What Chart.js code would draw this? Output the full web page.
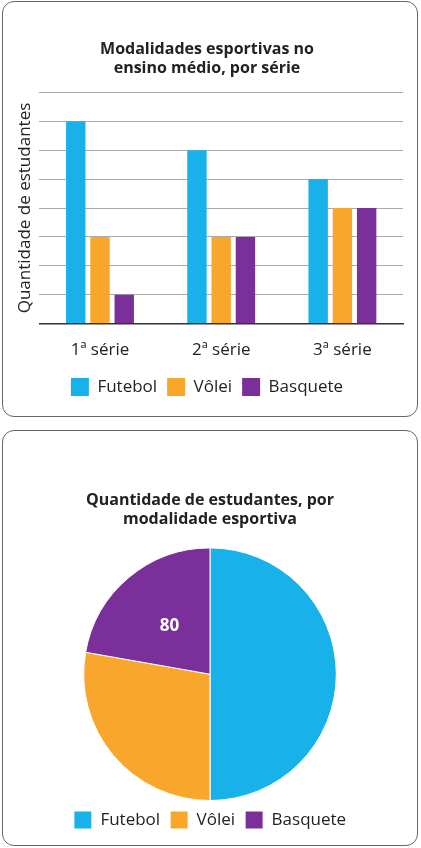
<!DOCTYPE html>
<html>
<head>
<meta charset="utf-8">
<script src="https://cdn.jsdelivr.net/npm/chart.js@4"></script>
<style>
  body { margin: 0; background: #fff; font-family: "Open Sans", sans-serif; }
  .box { position: absolute; left: 2px; width: 414px; border: 1.5px solid #666; border-radius: 12px; background: #fff; }
  #b1 { top: 1px; height: 414px; }
  #b2 { top: 430px; height: 414px; }
  canvas { display: block; }
</style>
</head>
<body>
<div class="box" id="b1"><canvas id="bar" width="414" height="414"></canvas></div>
<div class="box" id="b2"><canvas id="pie" width="414" height="414"></canvas></div>
<script>
// dados
const series = ['1ª série', '2ª série', '3ª série'];
const futebol = [7, 6, 5];
const volei = [3, 3, 4];
const basquete = [1, 3, 4];

const modalidades = ['Futebol', 'Vôlei', 'Basquete'];
const totais = [180, 100, 80];

const cores = ['#19b1ea', '#f9a62c', '#7a2f9b'];
const fonte = "'Open Sans', sans-serif";

Chart.defaults.font.family = fonte;
Chart.defaults.color = '#222';

const legenda = {
    position: 'bottom',
    labels: { boxWidth: 18, boxHeight: 18, font: { size: 17 }, padding: 10, color: '#222' }
};

new Chart(document.getElementById('bar'), {
    type: 'bar',
    data: {
        labels: series,
        datasets: [
            { label: 'Futebol', data: futebol, backgroundColor: cores[0] },
            { label: 'Vôlei', data: volei, backgroundColor: cores[1] },
            { label: 'Basquete', data: basquete, backgroundColor: cores[2] }
        ]
    },
    options: {
        responsive: false,
        animation: false,
        categoryPercentage: 0.6,
        barPercentage: 0.8,
        layout: { padding: { left: 8, right: 14, top: 14, bottom: 10 } },
        plugins: {
            title: {
                display: true,
                text: ['Modalidades esportivas no', 'ensino médio, por série'],
                font: { size: 16, weight: 'bold' },
                color: '#222',
                padding: { top: 24, bottom: 14 }
            },
            legend: legenda,
            tooltip: { enabled: false }
        },
        scales: {
            x: {
                grid: { display: false },
                border: { color: '#333', width: 1.5 },
                ticks: { font: { size: 17 }, color: '#222', padding: 8 }
            },
            y: {
                min: 0, max: 8,
                ticks: { display: false, stepSize: 1 },
                border: { display: false },
                grid: { color: '#aaa', drawTicks: false },
                title: { display: true, text: 'Quantidade de estudantes', font: { size: 17 }, color: '#222' }
            }
        }
    }
});

// rótulo só na fatia do basquete
const rotulo = {
    id: 'rotulo',
    afterDatasetsDraw(chart) {
        const arc = chart.getDatasetMeta(0).data[2];
        const p = arc.tooltipPosition();
        const ctx = chart.ctx;
        ctx.save();
        ctx.fillStyle = '#fff';
        ctx.font = 'bold 17px ' + fonte;
        ctx.textAlign = 'center';
        ctx.textBaseline = 'middle';
        ctx.fillText(totais[2], p.x, p.y);
        ctx.restore();
    }
};

new Chart(document.getElementById('pie'), {
    type: 'pie',
    data: {
        labels: modalidades,
        datasets: [{ data: totais, backgroundColor: cores, borderColor: '#fff', borderWidth: 1 }]
    },
    options: {
        responsive: false,
        animation: false,
        layout: { padding: { top: 14, bottom: 6, left: 10, right: 10 } },
        plugins: {
            title: {
                display: true,
                text: ['Quantidade de estudantes, por', 'modalidade esportiva'],
                font: { size: 16, weight: 'bold' },
                color: '#222',
                padding: { top: 46, bottom: 18 }
            },
            legend: legenda,
            tooltip: { enabled: false }
        }
    },
    plugins: [rotulo]
});
</script>
</body>
</html>
